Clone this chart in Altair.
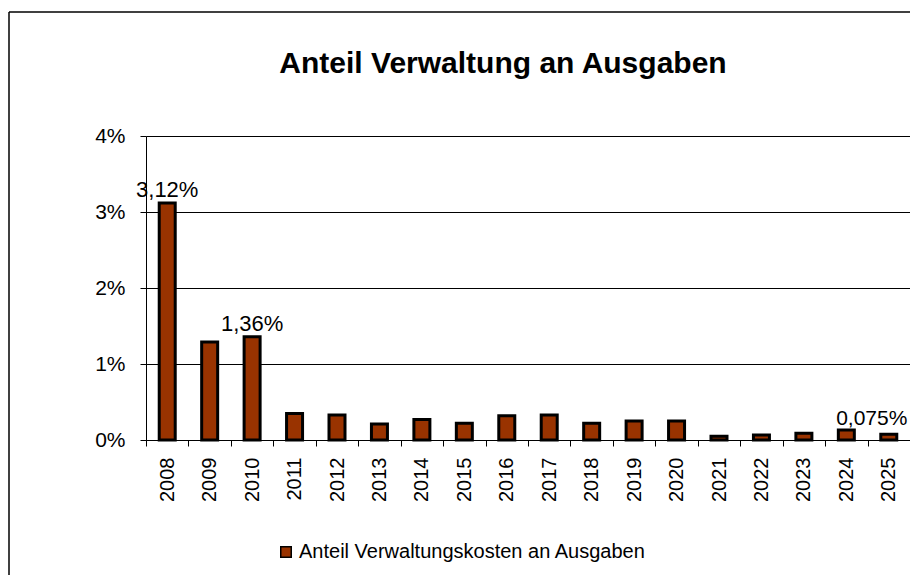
import altair as alt
import pandas as pd

# ---- data ----
years = ["2008", "2009", "2010", "2011", "2012", "2013", "2014", "2015", "2016",
         "2017", "2018", "2019", "2020", "2021", "2022", "2023", "2024", "2025"]
values = [3.12, 1.29, 1.36, 0.35, 0.33, 0.21, 0.27, 0.22, 0.32,
          0.33, 0.22, 0.25, 0.25, 0.05, 0.066, 0.09, 0.13, 0.075]
label_years = ["2008", "2010"]
label_texts = ["3,12%", "1,36%"]
end_label_years = ["2025"]
end_label_texts = ["0,075%"]
series_name = "Anteil Verwaltungskosten an Ausgaben"
chart_title = "Anteil Verwaltung an Ausgaben"
y_ticks = [0, 1, 2, 3, 4]

FONT = "Liberation Sans"
BAR = "#993300"

df = pd.DataFrame({"year": years, "value": values, "series": series_name})
lab_df = pd.DataFrame({
    "year": label_years,
    "value": [values[years.index(y)] for y in label_years],
    "label": label_texts,
})
end_df = pd.DataFrame({
    "year": end_label_years,
    "value": [values[years.index(y)] for y in end_label_years],
    "label": end_label_texts,
})

x_enc = alt.X(
    "year:N", sort=years,
    scale=alt.Scale(paddingInner=0, paddingOuter=0),
    axis=alt.Axis(
        title=None, labelAngle=-90, labelFont=FONT, labelFontSize=20,
        labelColor="black", labelPadding=11, tickBand="extent",
        tickColor="black", tickSize=6, domainColor="black", domainWidth=1,
        grid=False,
    ),
)
y_enc = alt.Y(
    "value:Q",
    scale=alt.Scale(domain=[0, 4], nice=False),
    axis=alt.Axis(
        title=None, values=y_ticks, labelExpr="datum.value + '%'",
        labelFont=FONT, labelFontSize=21, labelColor="black", labelPadding=15,
        tickColor="black", tickSize=6, domainColor="black", domainWidth=1,
        grid=True, gridColor="black", gridWidth=1, gridOpacity=1,
    ),
)

bars = alt.Chart(df).mark_bar(size=16, stroke="black", strokeWidth=3).encode(
    x=x_enc,
    y=y_enc,
    color=alt.Color(
        "series:N",
        scale=alt.Scale(domain=[series_name], range=[BAR]),
        legend=alt.Legend(
            title=None, orient="none", legendX=130, legendY=406,
            symbolType="square", symbolSize=110, symbolStrokeColor="black",
            symbolStrokeWidth=1.5, symbolFillColor=BAR,
            labelFont=FONT, labelFontSize=20, labelColor="black", labelOffset=3,
            labelLimit=0, padding=0,
        ),
    ),
)

labels = alt.Chart(lab_df).mark_text(
    dy=-6, baseline="alphabetic", align="center", font=FONT, fontSize=22, color="black"
).encode(x=alt.X("year:N", sort=years), y="value:Q", text="label:N")

end_labels = alt.Chart(end_df).mark_text(
    dy=-9, dx=-17, baseline="alphabetic", align="center", font=FONT, fontSize=21, color="black"
).encode(x=alt.X("year:N", sort=years), y="value:Q", text="label:N")

title_text = alt.Chart(alt.Data(values=[{"t": chart_title}])).mark_text(
    font=FONT, fontSize=30, fontWeight="bold", color="black",
    align="center", baseline="alphabetic",
).encode(x=alt.value(357), y=alt.value(-63), text="t:N")

frame_top = alt.Chart(alt.Data(values=[{}])).mark_rule(
    stroke="black", strokeWidth=1.5
).encode(x=alt.value(-137), x2=alt.value(900), y=alt.value(-124))

frame_left = alt.Chart(alt.Data(values=[{}])).mark_rule(
    stroke="black", strokeWidth=1.5
).encode(x=alt.value(-137), y=alt.value(-124), y2=alt.value(600))

chart = alt.layer(frame_top, frame_left, bars, labels, end_labels, title_text).properties(
    width=764,
    height=304,
    autosize=alt.AutoSizeParams(type="none"),
    padding={"left": 138, "top": 128, "right": 0, "bottom": 135},
).configure_view(stroke=None).configure(background="white")

chart.save("out.html", embed_options={"renderer": "svg", "actions": False})
